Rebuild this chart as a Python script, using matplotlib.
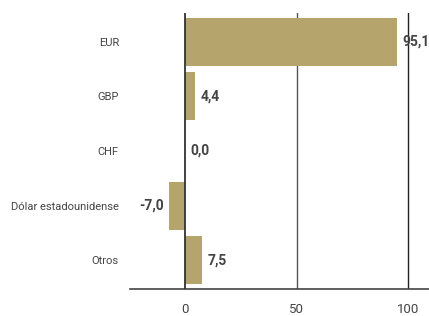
import matplotlib
matplotlib.use("Agg")
import matplotlib.pyplot as plt

categories = ["EUR", "GBP", "CHF", "Dólar estadounidense", "Otros"]
values = [95.1, 4.4, 0.0, -7.0, 7.5]
labels = ["95,1", "4,4", "0,0", "-7,0", "7,5"]
xticks = [0, 50, 100]

plt.rcParams['font.family'] = ['Roboto', 'DejaVu Sans']
fig = plt.figure(figsize=(4.29, 3.16), dpi=100)
ax = fig.add_axes([130/429, 1-289/316, 299/429, (289-13)/316])

color = "#B5A46B"
ypos = list(range(len(categories)))
ax.barh(ypos, values, height=0.88, color=color, zorder=2)
ax.set_xlim(-24.7, 109.4)
ax.set_ylim(len(categories) - 0.47, -0.53)

ax.axvline(50, color="#555555", lw=1.0, zorder=1)
ax.axvline(100, color="#222222", lw=1.0, zorder=1)
ax.axvline(0, color="#333333", lw=1.3, zorder=3)

for y, v, lab in zip(ypos, values, labels):
    if v < 0:
        ax.text(v - 2.5, y, lab, ha="right", va="center", fontsize=10,
                fontweight="bold", color="#444444")
    else:
        ax.text(v + 2.5, y, lab, ha="left", va="center", fontsize=10,
                fontweight="bold", color="#444444")

ax.set_yticks(ypos)
ax.set_yticklabels(categories, fontsize=8, color="#444444")
ax.set_xticks(xticks)
ax.set_xticklabels([str(t) for t in xticks], fontsize=9.5, color="#444444")
ax.tick_params(axis="y", length=0, pad=8)
ax.tick_params(axis="x", length=0, pad=10)

for s in ["top", "right", "left"]:
    ax.spines[s].set_visible(False)
ax.spines["bottom"].set_color("#444444")
ax.spines["bottom"].set_linewidth(1.2)

fig.savefig("out.png", dpi=100)
